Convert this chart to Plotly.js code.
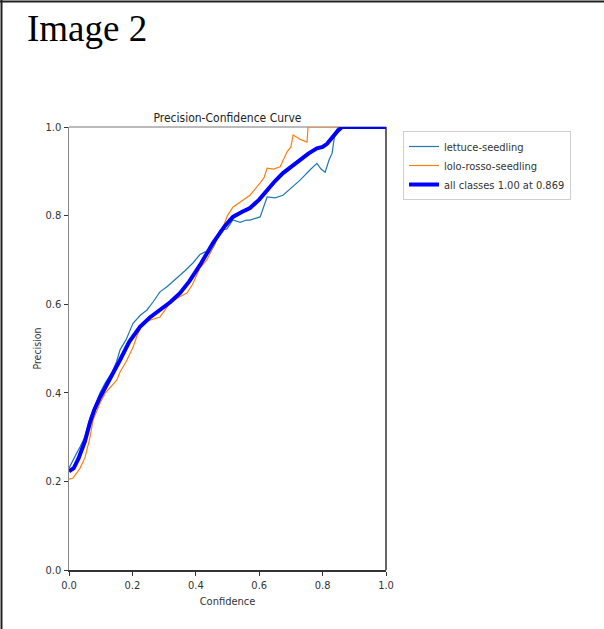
<!DOCTYPE html>
<html>
<head>
<meta charset="utf-8">
<script src="https://cdn.plot.ly/plotly-3.0.1.min.js"></script>
<style>
html,body{margin:0;padding:0;background:#fff;}
#chart{width:604px;height:629px;}
</style>
</head>
<body>
<div id="chart"></div>
<script>
// Precision-Confidence data
const lettuceConf = [0, 0.01, 0.025, 0.035, 0.05, 0.066, 0.08, 0.098, 0.114, 0.135, 0.15, 0.161, 0.18, 0.202, 0.225, 0.246, 0.265, 0.287, 0.31, 0.341, 0.365, 0.391, 0.413, 0.429, 0.445, 0.46, 0.476, 0.498, 0.517, 0.54, 0.56, 0.571, 0.603, 0.625, 0.65, 0.675, 0.70, 0.729, 0.76, 0.782, 0.795, 0.808, 0.82, 0.83, 0.839, 0.849, 1.0];
const lettucePrec = [0.23, 0.245, 0.265, 0.278, 0.30, 0.343, 0.37, 0.40, 0.422, 0.445, 0.47, 0.497, 0.52, 0.557, 0.575, 0.587, 0.605, 0.628, 0.64, 0.659, 0.675, 0.693, 0.712, 0.718, 0.716, 0.735, 0.767, 0.77, 0.79, 0.785, 0.79, 0.79, 0.797, 0.842, 0.84, 0.846, 0.862, 0.88, 0.903, 0.918, 0.905, 0.898, 0.925, 0.941, 0.986, 1.0, 1.0];

const loloConf = [0, 0.012, 0.025, 0.035, 0.05, 0.066, 0.076, 0.098, 0.115, 0.129, 0.151, 0.161, 0.18, 0.202, 0.215, 0.233, 0.26, 0.287, 0.30, 0.319, 0.345, 0.372, 0.39, 0.404, 0.413, 0.435, 0.445, 0.465, 0.486, 0.50, 0.517, 0.545, 0.571, 0.603, 0.615, 0.625, 0.645, 0.666, 0.688, 0.70, 0.707, 0.73, 0.751, 0.754, 1.0];
const loloPrec = [0.205, 0.207, 0.22, 0.23, 0.253, 0.298, 0.339, 0.377, 0.40, 0.411, 0.429, 0.447, 0.47, 0.503, 0.53, 0.557, 0.565, 0.571, 0.585, 0.603, 0.615, 0.625, 0.645, 0.67, 0.682, 0.70, 0.716, 0.745, 0.774, 0.80, 0.819, 0.832, 0.846, 0.874, 0.885, 0.907, 0.905, 0.91, 0.944, 0.955, 0.982, 0.972, 0.966, 1.0, 1.0];

const allConf = [0, 0.015, 0.03, 0.05, 0.066, 0.08, 0.098, 0.115, 0.129, 0.145, 0.161, 0.19, 0.224, 0.255, 0.287, 0.32, 0.35, 0.38, 0.413, 0.454, 0.49, 0.517, 0.545, 0.571, 0.6, 0.625, 0.65, 0.675, 0.70, 0.729, 0.755, 0.782, 0.80, 0.814, 0.83, 0.845, 0.861, 1.0];
const allPrec = [0.223, 0.230, 0.252, 0.29, 0.332, 0.362, 0.39, 0.412, 0.429, 0.452, 0.474, 0.515, 0.549, 0.57, 0.587, 0.605, 0.625, 0.652, 0.688, 0.738, 0.775, 0.797, 0.808, 0.817, 0.836, 0.858, 0.878, 0.896, 0.910, 0.925, 0.94, 0.952, 0.955, 0.962, 0.977, 0.989, 1.0, 1.0];

const seriesNames = ['lettuce-seedling', 'lolo-rosso-seedling', 'all classes 1.00 at 0.869'];
const tickValues = [0, 0.2, 0.4, 0.6, 0.8, 1.0];
const tickLabels = ['0.0', '0.2', '0.4', '0.6', '0.8', '1.0'];

const FONT = '"DejaVu Sans Condensed", "DejaVu Sans", sans-serif';

const traces = [
  {x: lettuceConf, y: lettucePrec, name: seriesNames[0], mode: 'lines',
   line: {color: '#1f77b4', width: 1.2}},
  {x: loloConf, y: loloPrec, name: seriesNames[1], mode: 'lines',
   line: {color: '#ff7f0e', width: 1.2}},
  {x: allConf, y: allPrec, name: seriesNames[2], mode: 'lines',
   line: {color: '#0000ff', width: 4}}
];

const L = 69, R = 386, T = 127, B = 570, W = 604, H = 629;
const px = v => (v - L) / (R - L);
const py = v => (B - v) / (B - T);

const layout = {
  width: W, height: H,
  margin: {l: L, r: W - R, t: T, b: H - B, pad: 0},
  paper_bgcolor: '#ffffff',
  plot_bgcolor: '#ffffff',
  font: {family: FONT, size: 11, color: '#333'},
  showlegend: true,
  title: {text: 'Precision-Confidence Curve', font: {family: FONT, size: 12, color: '#222'},
          x: 0.5, xref: 'paper', y: 1, yref: 'paper', yanchor: 'bottom', pad: {b: 5}},
  xaxis: {
    range: [0, 1], tickvals: tickValues, ticktext: tickLabels,
    ticks: 'outside', ticklen: 4, tickcolor: '#333', tickwidth: 1,
    showgrid: false, zeroline: false, showline: true, linecolor: '#333', linewidth: 1.5,
    tickfont: {family: FONT, size: 11, color: '#333'},
    title: {text: 'Confidence', font: {family: FONT, size: 11, color: '#333'}, standoff: 6}
  },
  yaxis: {
    range: [0, 1], tickvals: tickValues, ticktext: tickLabels,
    ticks: 'outside', ticklen: 4, tickcolor: '#333', tickwidth: 1,
    showgrid: false, zeroline: false, showline: true, linecolor: '#888', linewidth: 1.5,
    tickfont: {family: FONT, size: 11, color: '#333'},
    title: {text: 'Precision', font: {family: FONT, size: 10.5, color: '#333'}, standoff: 2}
  },
  legend: {
    x: px(403), y: py(131), xanchor: 'left', yanchor: 'top',
    bgcolor: 'rgba(255,255,255,0.9)', bordercolor: '#d0d0d0', borderwidth: 1,
    font: {family: FONT, size: 11, color: '#333'},
    itemwidth: 30, tracegroupgap: 0
  },
  shapes: [
    // top and right spines
    {type: 'line', xref: 'paper', yref: 'paper', x0: 0, x1: 1, y0: 1, y1: 1,
     line: {color: '#bbbbbb', width: 2}, layer: 'below'},
    {type: 'line', xref: 'paper', yref: 'paper', x0: 1, x1: 1, y0: 0, y1: 1,
     line: {color: '#333333', width: 1.5}, layer: 'above'},
    // outer frame of the screenshot (top and left)
    {type: 'line', xref: 'paper', yref: 'paper', x0: px(0), x1: px(W), y0: py(1.5), y1: py(1.5),
     line: {color: '#222222', width: 2}},
    {type: 'line', xref: 'paper', yref: 'paper', x0: px(1.5), x1: px(1.5), y0: py(0), y1: py(H),
     line: {color: '#222222', width: 2}}
  ],
  annotations: [
    {text: 'Image 2', xref: 'paper', yref: 'paper', x: px(25), y: py(28),
     xanchor: 'left', yanchor: 'middle', showarrow: false,
     font: {family: '"Liberation Serif", "Times New Roman", serif', size: 37, color: '#000'}}
  ]
};

Plotly.newPlot('chart', traces, layout, {displayModeBar: false, staticPlot: true});
</script>
</body>
</html>
